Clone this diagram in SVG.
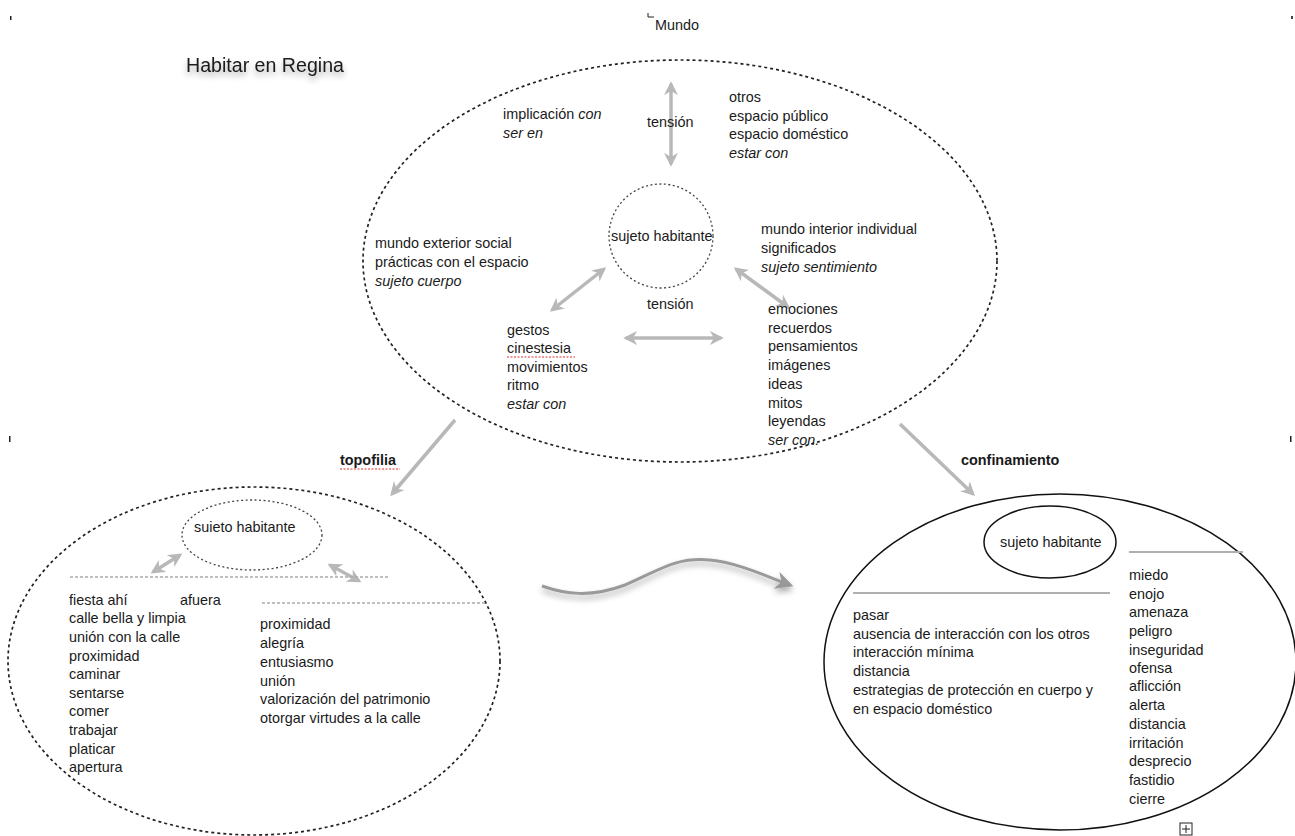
<svg xmlns="http://www.w3.org/2000/svg" width="1295" height="836" viewBox="0 0 1295 836">
<style>
text{font-family:"Liberation Sans",Arial,sans-serif;font-size:14.4px;fill:#1a1a1a}
.i{font-style:italic}
.b{font-weight:bold}
.dash{fill:none;stroke:#222;stroke-width:1.7;stroke-dasharray:3 3}
.dot{fill:none;stroke:#444;stroke-width:1.3;stroke-dasharray:2 2.5}
.solid{fill:none;stroke:#111;stroke-width:1.5}
.ga{stroke:#b8b8b8;stroke-width:3.5;fill:none}
.gl{stroke:#b0b0b0;stroke-width:2;fill:none}
.gd{stroke:#aaa;stroke-width:1.5;fill:none;stroke-dasharray:3 2}
.sq{stroke:#e03030;stroke-width:1.2;fill:none;stroke-dasharray:2 1.5}
</style>
<defs>
<marker id="ah" viewBox="0 0 10 10" refX="8" refY="5" markerWidth="4" markerHeight="4" orient="auto-start-reverse" markerUnits="strokeWidth"><path d="M0,0 L10,5 L0,10 L3,5 Z" fill="#b8b8b8"/></marker>
<marker id="ah2" viewBox="0 0 10 10" refX="8" refY="5" markerWidth="6" markerHeight="6" orient="auto" markerUnits="strokeWidth"><path d="M0,0 L10,5 L0,10 L3,5 Z" fill="#999"/></marker>
<filter id="sh" x="-20%" y="-50%" width="140%" height="200%"><feGaussianBlur in="SourceAlpha" stdDeviation="3"/><feOffset dy="4"/><feComponentTransfer><feFuncA type="linear" slope="0.35"/></feComponentTransfer><feMerge><feMergeNode/><feMergeNode in="SourceGraphic"/></feMerge></filter>
</defs>

<g id="connectors">
<path class="ga" d="M671,84 L671,164" marker-start="url(#ah)" marker-end="url(#ah)"/>
<path class="ga" d="M604,269 L552,310" marker-start="url(#ah)" marker-end="url(#ah)"/>
<path class="ga" d="M736,269 L788,307" marker-start="url(#ah)" marker-end="url(#ah)"/>
<path class="ga" d="M626,338 L721,338" marker-start="url(#ah)" marker-end="url(#ah)"/>
<path class="ga" d="M455,420 L392,494" marker-end="url(#ah)"/>
<path class="ga" d="M900,424 L973,494" marker-end="url(#ah)"/>
<path class="ga" d="M153,572 L180,555" stroke-width="2.5" marker-start="url(#ah)" marker-end="url(#ah)"/>
<path class="ga" d="M330,565 L359,581" stroke-width="2.5" marker-start="url(#ah)" marker-end="url(#ah)"/>
<g filter="url(#sh)">
<path d="M542,586 C565,594 590,598 625,585 C660,570 675,557 710,560 C740,563 770,578 790,585" fill="none" stroke="#9a9a9a" stroke-width="3" marker-end="url(#ah2)"/>
</g>
<text x="340" y="465" class="b">topofilia</text>
<path class="sq" d="M340,469 L400,469"/>
<text x="961" y="465" class="b">confinamiento</text>
</g>

<g id="marks">
<rect x="10" y="16" width="1.5" height="4" fill="#222"/>
<rect x="9" y="436" width="1.5" height="6" fill="#222"/>
<rect x="1291" y="16" width="2" height="3" fill="#444"/>
<rect x="1290" y="436" width="1.5" height="6" fill="#222"/>
<path d="M648,13 L648,17 L654,17" fill="none" stroke="#222" stroke-width="1"/>
<rect x="1180" y="823" width="12" height="12" fill="none" stroke="#222" stroke-width="1"/>
<path d="M1186,825 L1186,833 M1182,829 L1190,829" stroke="#222" stroke-width="1"/>
</g>

<g id="title"><text x="186" y="72" style="font-size:19.6px" filter="url(#sh)">Habitar en Regina</text></g>
<g id="mundo-label"><text x="655" y="30">Mundo</text></g>

<g id="mundo">
<ellipse class="dash" cx="680" cy="261" rx="317" ry="201"/>
<text x="503" y="119">implicación <tspan class="i">con</tspan></text>
<text x="503" y="138" class="i">ser en</text>
<text x="647" y="127">tensión</text>
<text x="729" y="102">otros</text>
<text x="729" y="121">espacio público</text>
<text x="729" y="139">espacio doméstico</text>
<text x="729" y="158" class="i">estar con</text>
<text x="375" y="248">mundo exterior social</text>
<text x="375" y="267">prácticas con el espacio</text>
<text x="375" y="286" class="i">sujeto cuerpo</text>
<text x="761" y="234">mundo interior individual</text>
<text x="761" y="253">significados</text>
<text x="761" y="272" class="i">sujeto sentimiento</text>
<text x="647" y="309">tensión</text>
<text x="507" y="335">gestos</text>
<text x="507" y="353">cinestesia</text>
<path class="sq" d="M507,357 L575,357"/>
<text x="507" y="372">movimientos</text>
<text x="507" y="390">ritmo</text>
<text x="507" y="409" class="i">estar con</text>
<text x="768" y="314">emociones</text>
<text x="768" y="333">recuerdos</text>
<text x="768" y="351">pensamientos</text>
<text x="768" y="370">imágenes</text>
<text x="768" y="389">ideas</text>
<text x="768" y="408">mitos</text>
<text x="768" y="426">leyendas</text>
<text x="768" y="445" class="i">ser con.</text>
</g>

<g id="sujeto-mundo">
<circle class="dot" cx="661" cy="236" r="52"/>
<text x="611" y="241">sujeto habitante</text>
</g>

<g id="topofilia">
<ellipse class="dash" cx="254" cy="661" rx="246" ry="174"/>
<text x="69" y="605">fiesta ahí</text>
<text x="180" y="605">afuera</text>
<text x="69" y="623">calle bella y limpia</text>
<text x="69" y="642">unión con la calle</text>
<text x="69" y="661">proximidad</text>
<text x="69" y="679">caminar</text>
<text x="69" y="698">sentarse</text>
<text x="69" y="716">comer</text>
<text x="69" y="735">trabajar</text>
<text x="69" y="754">platicar</text>
<text x="69" y="772">apertura</text>
<text x="260" y="629">proximidad</text>
<text x="260" y="648">alegría</text>
<text x="260" y="667">entusiasmo</text>
<text x="260" y="686">unión</text>
<text x="260" y="704">valorización del patrimonio</text>
<text x="260" y="723">otorgar virtudes a la calle</text>
<path class="gd" d="M70,577 L390,577"/>
<path class="gd" d="M262,603 L485,603"/>
</g>

<g id="sujeto-topofilia">
<ellipse class="dot" cx="252" cy="535" rx="70" ry="35"/>
<text x="194" y="532">suieto habitante</text>
</g>

<g id="confinamiento">
<ellipse class="solid" cx="1060" cy="662" rx="236" ry="168"/>
<path class="gl" d="M1129,552 L1243,552"/>
<path class="gl" d="M853,593 L1110,593"/>
<text x="853" y="620">pasar</text>
<text x="853" y="639">ausencia de interacción con los otros</text>
<text x="853" y="657">interacción mínima</text>
<text x="853" y="676">distancia</text>
<text x="853" y="695">estrategias de protección en cuerpo y</text>
<text x="853" y="714">en espacio doméstico</text>
<text x="1129" y="580">miedo</text>
<text x="1129" y="599">enojo</text>
<text x="1129" y="617">amenaza</text>
<text x="1129" y="636">peligro</text>
<text x="1129" y="655">inseguridad</text>
<text x="1129" y="673">ofensa</text>
<text x="1129" y="691">aflicción</text>
<text x="1129" y="710">alerta</text>
<text x="1129" y="729">distancia</text>
<text x="1129" y="748">irritación</text>
<text x="1129" y="766">desprecio</text>
<text x="1129" y="785">fastidio</text>
<text x="1129" y="804">cierre</text>
</g>

<g id="sujeto-confinamiento">
<ellipse class="solid" cx="1050" cy="542" rx="66" ry="36"/>
<text x="1000" y="547">sujeto habitante</text>
</g>
</svg>
